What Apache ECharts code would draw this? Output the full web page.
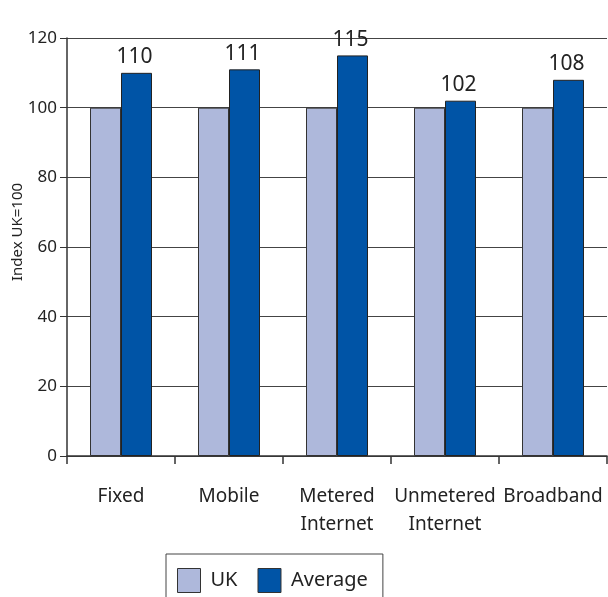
<!DOCTYPE html>
<html><head><meta charset="utf-8">
<script src="https://cdn.jsdelivr.net/npm/echarts@6/dist/echarts.min.js"></script>
<style>html,body{margin:0;padding:0;background:#fff}#c{width:608px;height:597px}</style>
</head><body><div id="c"></div>
<script>
const categories = ['Fixed', 'Mobile', 'Metered\nInternet', 'Unmetered\nInternet', 'Broadband'];
const ukValues = [100, 100, 100, 100, 100];
const averageValues = [110, 111, 115, 102, 108];
const seriesNames = ['UK', 'Average'];
const yTicks = { min: 0, max: 120, interval: 20 };

const font = 'Noto Sans';
const chart = echarts.init(document.getElementById('c'), null, { renderer: 'canvas' });
chart.setOption({
  animation: false,
  textStyle: { fontFamily: font },
  grid: { left: 67, right: 1, top: 38, bottom: 141, containLabel: false, outerBoundsMode: 'none', show: false },
  legend: {
    data: seriesNames,
    left: 166, top: 554,
    padding: [14, 15, 10, 11],
    borderColor: '#444', borderWidth: 1,
    itemWidth: 23, itemHeight: 24, itemGap: 20,
    icon: 'rect',
    itemStyle: { borderColor: '#333', borderWidth: 1 },
    textStyle: { fontSize: 20, color: '#222', fontFamily: font, padding: [0, 0, 0, 5] }
  },
  xAxis: {
    type: 'category', data: categories,
    axisLine: { show: true, lineStyle: { color: '#333', width: 1.5 } },
    axisTick: { show: true, length: 8, alignWithLabel: false, lineStyle: { color: '#333', width: 1.5 } },
    axisLabel: { fontSize: 19, color: '#222', margin: 27, lineHeight: 28, interval: 0, fontFamily: font }
  },
  yAxis: {
    type: 'value', min: yTicks.min, max: yTicks.max, interval: yTicks.interval,
    name: 'Index UK=100', nameLocation: 'middle', nameGap: 42, nameRotate: 90, nameMoveOverlap: false,
    nameTextStyle: { fontSize: 15, color: '#222', fontFamily: font, padding: [0, 0, 0, 30] },
    axisLine: { show: true, lineStyle: { color: '#333', width: 1.5 } },
    axisTick: { show: true, length: 7, lineStyle: { color: '#333' } },
    axisLabel: { fontSize: 17, color: '#222', margin: 10, fontFamily: font },
    splitLine: { show: true, lineStyle: { color: '#444', width: 1 } }
  },
  series: [
    { name: seriesNames[0], type: 'bar', data: ukValues, barWidth: 31, barGap: '0%',
      itemStyle: { color: '#AEB8DB', borderColor: '#333', borderWidth: 1 } },
    { name: seriesNames[1], type: 'bar', data: averageValues, barWidth: 31,
      itemStyle: { color: '#0054A6', borderColor: '#222', borderWidth: 1 },
      label: { show: true, position: 'top', distance: 5, fontSize: 21, color: '#222', fontFamily: font, offset: [-2, 0] } }
  ]
});
</script></body></html>
